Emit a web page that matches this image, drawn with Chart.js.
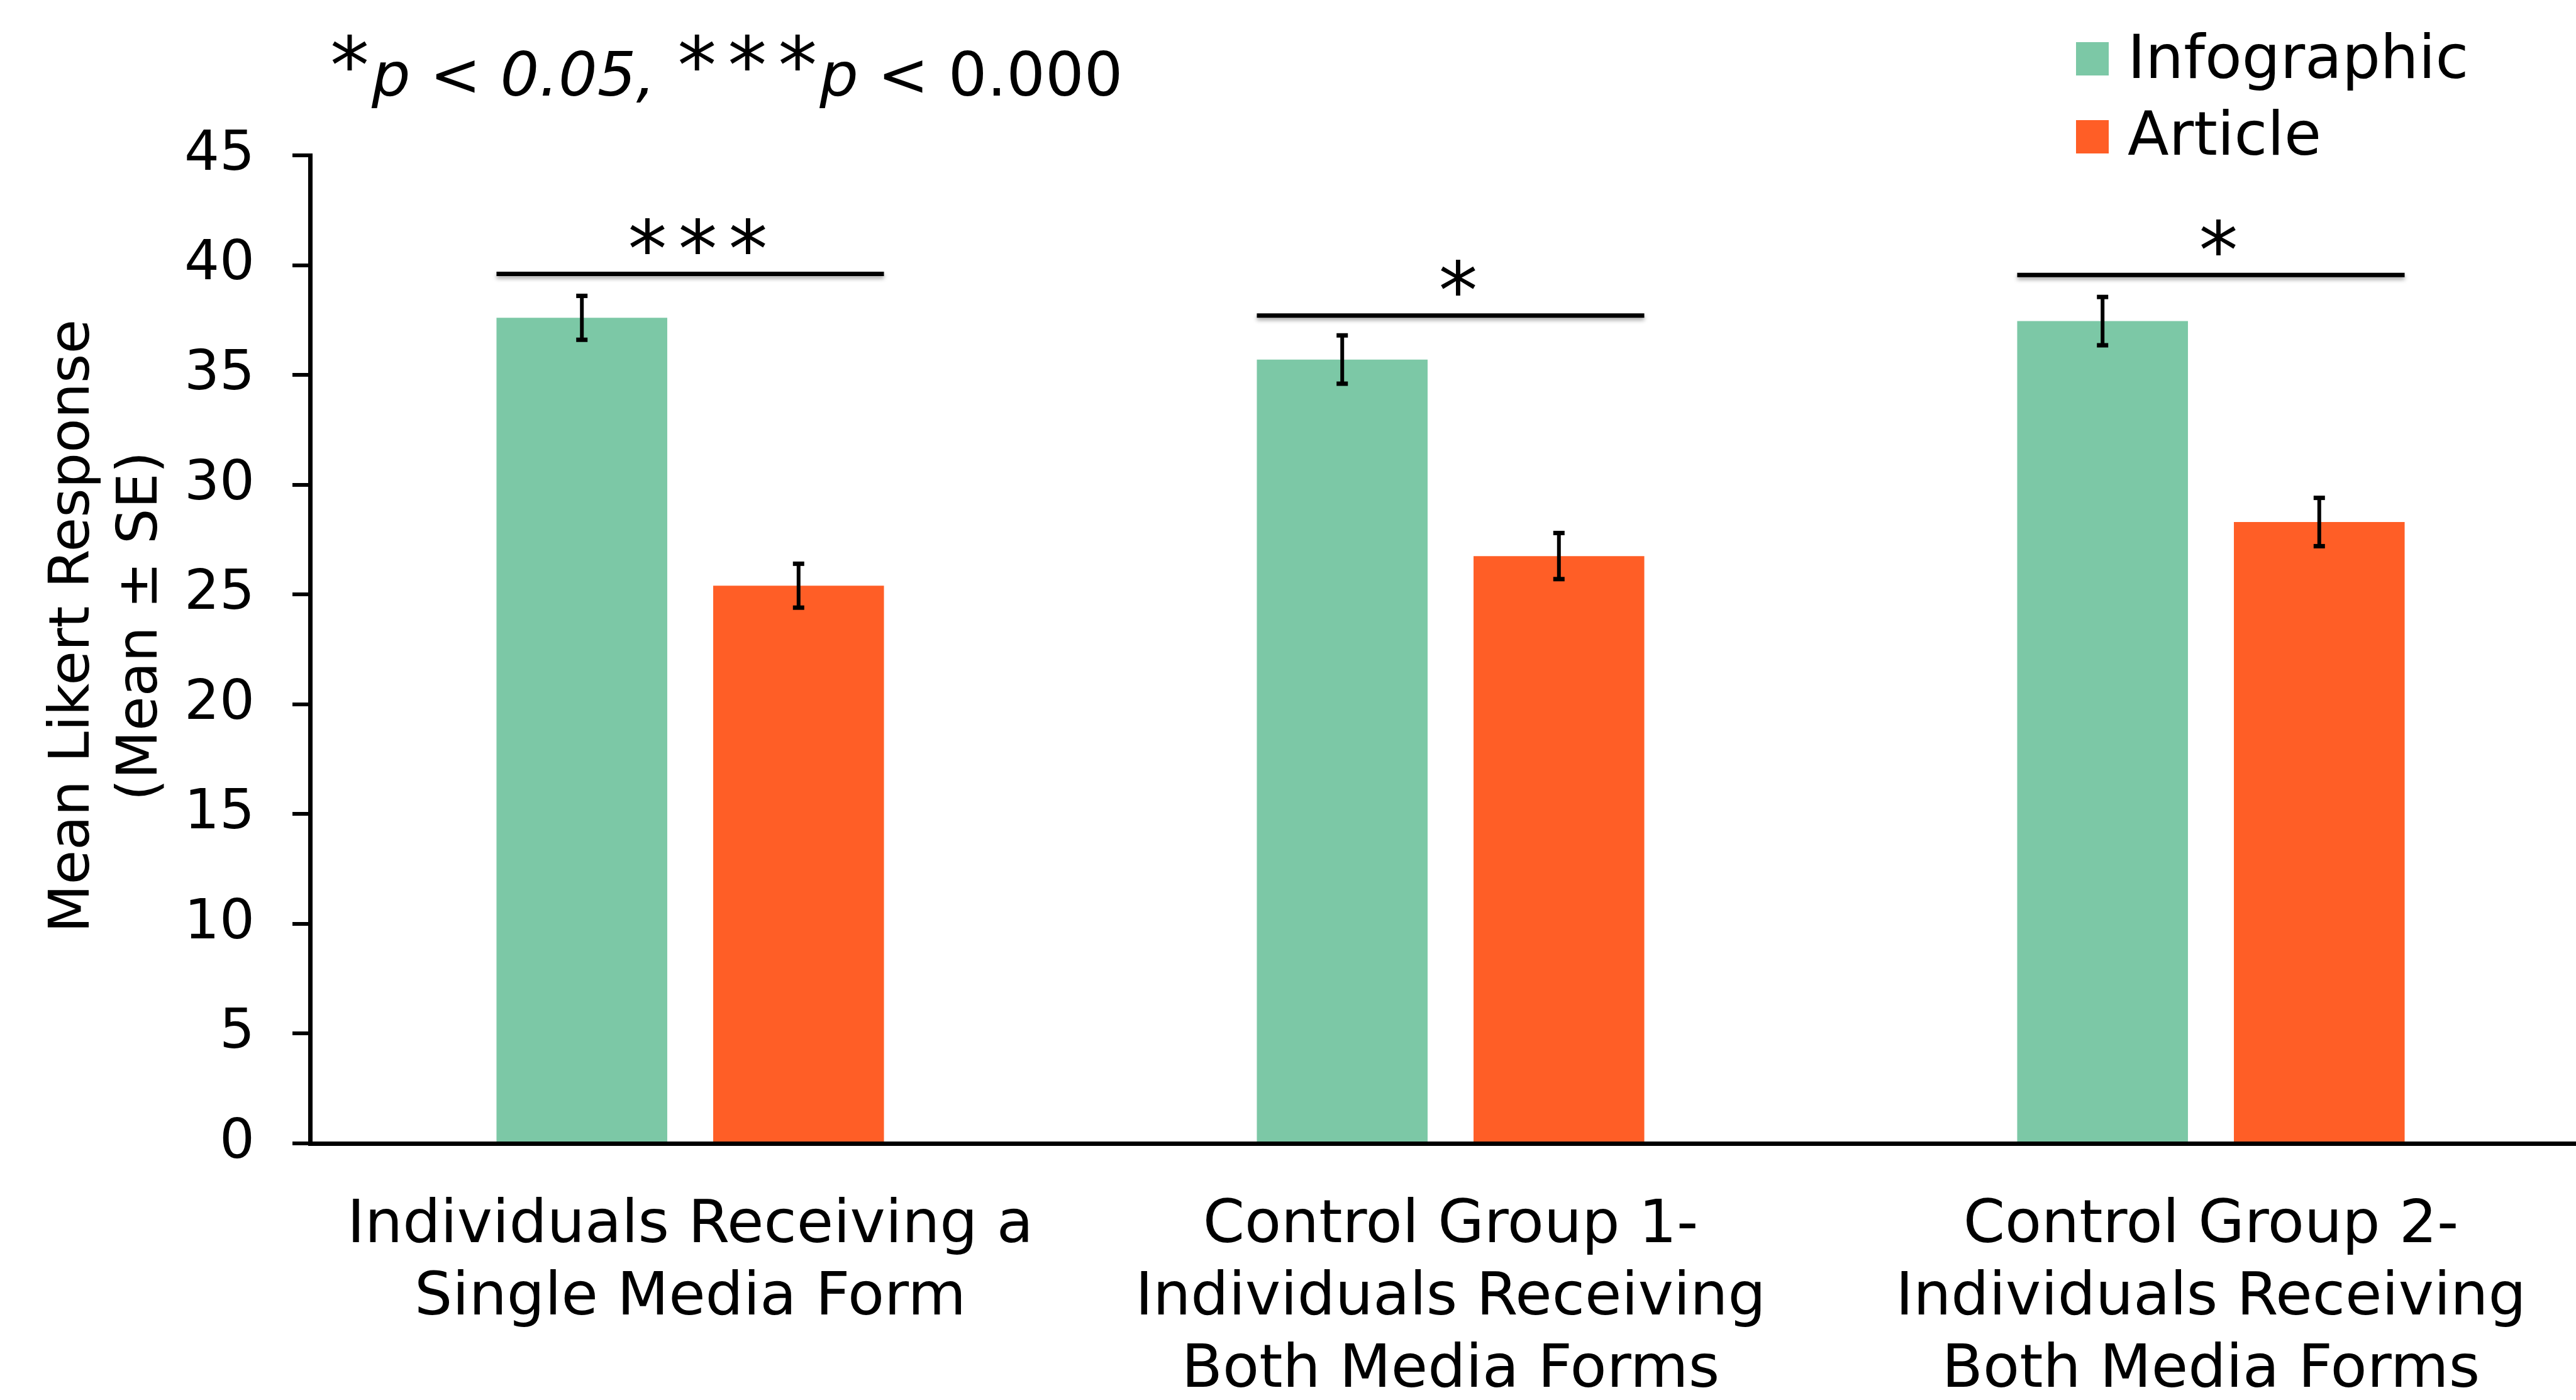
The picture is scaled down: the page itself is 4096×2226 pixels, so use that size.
<!DOCTYPE html>
<html>
<head>
<meta charset="utf-8">
<script src="https://cdn.jsdelivr.net/npm/chart.js@4.4.0/dist/chart.umd.min.js"></script>
<style>
  html, body { margin: 0; padding: 0; background: #fff; overflow: hidden; }
  #wrap { width: 4120px; height: 2226px; }
</style>
</head>
<body>
<div id="wrap"><canvas id="myBarChart"></canvas></div>
<script>
    // data
    const groups = [
      ['Individuals Receiving a', 'Single Media Form'],
      ['Control Group 1-', 'Individuals Receiving', 'Both Media Forms'],
      ['Control Group 2-', 'Individuals Receiving', 'Both Media Forms']
    ];
    const infographic = [37.6, 35.7, 37.45];
    const infographicSE = [1.0, 1.1, 1.1];
    const article = [25.4, 26.75, 28.3];
    const articleSE = [1.0, 1.05, 1.1];
    const sigLevel = [39.6, 37.7, 39.55];
    const sigMarks = ['***', '*', '*'];
    const yMin = 0, yMax = 45, yStep = 5;

    const FONT = '"DejaVu Sans", Verdana, sans-serif';
    const GREEN = '#7cc8a6';
    const ORANGE = '#ff5e26';

    // asterisks drawn a bit larger, like the original
    function starSize(ctx) {
      ctx.font = '100px ' + FONT;
      const m = ctx.measureText('*');
      return 100 * 57 / (m.actualBoundingBoxAscent + m.actualBoundingBoxDescent);
    }
    function drawStars(ctx, n, left, cy) {
      const s = starSize(ctx);
      ctx.font = s + 'px ' + FONT;
      ctx.textAlign = 'center';
      ctx.textBaseline = 'alphabetic';
      const m = ctx.measureText('*');
      const base = cy + (m.actualBoundingBoxAscent - m.actualBoundingBoxDescent) / 2;
      for (let i = 0; i < n; i++) ctx.fillText('*', left + 35 + i * 80, base);
      return 70 + (n - 1) * 80;
    }

    const errorBars = {
      id: 'errorBars',
      afterDatasetsDraw(chart) {
        const ctx = chart.ctx, y = chart.scales.y;
        const errs = [infographicSE, articleSE];
        ctx.save();
        ctx.strokeStyle = '#000';
        ctx.fillStyle = '#000';
        ctx.lineWidth = 6;
        chart.data.datasets.forEach((ds, i) => {
          chart.getDatasetMeta(i).data.forEach((bar, j) => {
            const top = y.getPixelForValue(ds.data[j] + errs[i][j]);
            const bot = y.getPixelForValue(ds.data[j] - errs[i][j]);
            ctx.beginPath();
            ctx.moveTo(bar.x, top);
            ctx.lineTo(bar.x, bot);
            ctx.stroke();
            ctx.fillRect(bar.x - 9, top - 3.5, 18, 7);
            ctx.fillRect(bar.x - 9, bot - 3.5, 18, 7);
          });
        });
        ctx.restore();
      }
    };

    const sigLines = {
      id: 'sigLines',
      afterDatasetsDraw(chart) {
        const ctx = chart.ctx, y = chart.scales.y;
        const a = chart.getDatasetMeta(0).data, b = chart.getDatasetMeta(1).data;
        ctx.save();
        sigLevel.forEach((lvl, j) => {
          const x1 = a[j].x - a[j].width / 2;
          const x2 = b[j].x + b[j].width / 2;
          const yy = y.getPixelForValue(lvl);
          ctx.save();
          ctx.shadowColor = 'rgba(0,0,0,0.35)';
          ctx.shadowBlur = 6;
          ctx.shadowOffsetY = 4;
          ctx.strokeStyle = '#000';
          ctx.lineWidth = 7;
          ctx.beginPath();
          ctx.moveTo(x1, yy);
          ctx.lineTo(x2, yy);
          ctx.stroke();
          ctx.restore();
          const n = sigMarks[j].length;
          const w = 70 + (n - 1) * 80;
          ctx.fillStyle = '#000';
          drawStars(ctx, n, (x1 + x2) / 2 + 12 - w / 2, yy - 60);
        });
        ctx.restore();
      }
    };

    const decorations = {
      id: 'decorations',
      afterDraw(chart) {
        const ctx = chart.ctx, area = chart.chartArea;
        ctx.save();
        ctx.fillStyle = '#000';

        // note at the top: *p < 0.05, ***p < 0.000
        let x = 521;
        const base = 152;
        x += drawStars(ctx, 1, x, 83);
        ctx.textAlign = 'left';
        ctx.textBaseline = 'alphabetic';
        ctx.font = 'italic 97px ' + FONT;
        ctx.fillText('p < 0.05,', x, base);
        x += ctx.measureText('p < 0.05,').width;
        ctx.font = '97px ' + FONT;
        x += ctx.measureText(' ').width;
        x += drawStars(ctx, 3, x, 83);
        ctx.textAlign = 'left';
        ctx.textBaseline = 'alphabetic';
        ctx.font = 'italic 97px ' + FONT;
        ctx.fillText('p', x, base);
        x += ctx.measureText('p').width;
        ctx.font = '97px ' + FONT;
        ctx.fillText(' < 0.000', x, base);

        // legend
        chart.data.datasets.forEach((ds, i) => {
          const sq = [67, 191][i];
          ctx.fillStyle = ds.backgroundColor;
          ctx.fillRect(3301, sq, 52, 53);
          ctx.fillStyle = '#000';
          ctx.font = '96px ' + FONT;
          ctx.textAlign = 'left';
          ctx.fillText(ds.label, 3383, [124, 246][i]);
        });

        // y axis title
        const cy = (area.top + area.bottom) / 2 - 37;
        ctx.font = '89px ' + FONT;
        ctx.textAlign = 'center';
        [['Mean Likert Response', 141], ['(Mean \u00b1 SE)', 249]].forEach(([t, bx]) => {
          ctx.save();
          ctx.translate(bx, cy);
          ctx.rotate(-Math.PI / 2);
          ctx.fillText(t, 0, 0);
          ctx.restore();
        });
        ctx.restore();
      }
    };

    const data = {
      labels: groups,
      datasets: [
        {
          label: 'Infographic',
          data: infographic,
          backgroundColor: GREEN,
          borderWidth: 0,
          categoryPercentage: 0.57,
          barPercentage: 0.788
        },
        {
          label: 'Article',
          data: article,
          backgroundColor: ORANGE,
          borderWidth: 0,
          categoryPercentage: 0.57,
          barPercentage: 0.788
        }
      ]
    };

    const config = {
      type: 'bar',
      data: data,
      options: {
        responsive: true,
        maintainAspectRatio: false,
        animation: false,
        layout: { padding: { top: 247, left: 0, right: 0, bottom: 0 } },
        plugins: {
          legend: { display: false },
          tooltip: { enabled: false },
          title: { display: false }
        },
        scales: {
          x: {
            grid: { display: false, drawTicks: false },
            border: { display: true, color: '#000', width: 7 },
            ticks: {
              color: '#000',
              font: { family: FONT, size: 95, lineHeight: 1.21 },
              padding: 75,
              maxRotation: 0,
              minRotation: 0,
              autoSkip: false
            },
            afterFit(s) { s.height = 408; s.paddingLeft = 0; s.paddingRight = 0; }
          },
          y: {
            min: yMin,
            max: yMax,
            grid: { drawOnChartArea: false, drawTicks: true, tickLength: 28, lineWidth: 6, color: '#000' },
            border: { display: true, color: '#000', width: 7 },
            ticks: { stepSize: yStep, color: '#000', font: { family: FONT, size: 88 }, padding: 60 },
            afterFit(s) { s.width = 493; }
          }
        }
      },
      plugins: [errorBars, sigLines, decorations]
    };

    const myBarChart = new Chart(document.getElementById('myBarChart'), config);
</script>
</body>
</html>
